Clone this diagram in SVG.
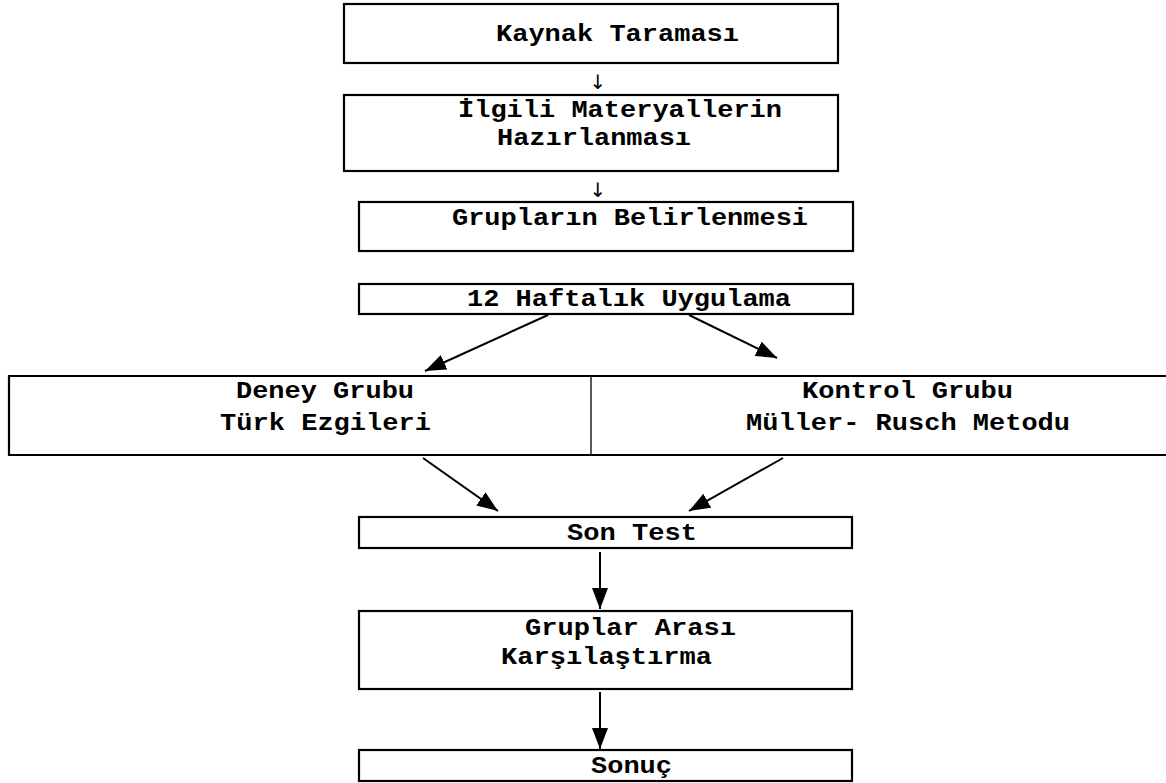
<svg xmlns="http://www.w3.org/2000/svg" width="1166" height="783" viewBox="0 0 1166 783">
<style>
.box{fill:#fff;stroke:#000;stroke-width:2.2}
.t{font-family:"Courier New","Liberation Mono",monospace;font-weight:bold;font-size:23px;fill:#000}
.sm{font-family:"DejaVu Sans","Liberation Sans",sans-serif;font-size:20px;fill:#000}
.c{stroke:#000;stroke-width:2;fill:none;marker-end:url(#ah)}
</style>
<defs>
<marker id="ah" markerUnits="userSpaceOnUse" markerWidth="22" markerHeight="16" refX="21" refY="8" orient="auto">
<path d="M0,0 L21,8 L0,16 z" fill="#000"/>
</marker>
</defs>
<rect width="1166" height="783" fill="#fff"/>
<g id="n1"><rect class="box" x="344" y="4" width="494" height="59"/>
<text class="t" x="496" y="41" textLength="243" lengthAdjust="spacingAndGlyphs">Kaynak Taraması</text></g>
<g id="n2"><rect class="box" x="344" y="95" width="494" height="76"/>
<text class="t" x="458" y="117" textLength="324" lengthAdjust="spacingAndGlyphs">İlgili Materyallerin</text>
<text class="t" x="497" y="145" textLength="194" lengthAdjust="spacingAndGlyphs">Hazırlanması</text></g>
<g id="n3"><rect class="box" x="359" y="202" width="494" height="49"/>
<text class="t" x="452" y="225" textLength="356" lengthAdjust="spacingAndGlyphs">Grupların Belirlenmesi</text></g>
<g id="n4"><rect class="box" x="359" y="284" width="494" height="30"/>
<text class="t" x="467" y="306" textLength="324" lengthAdjust="spacingAndGlyphs">12 Haftalık Uygulama</text></g>
<g id="n5"><path class="box" d="M1170,376 H9 V455 H1170" />
<text class="t" x="236" y="398" textLength="178" lengthAdjust="spacingAndGlyphs">Deney Grubu</text>
<text class="t" x="220" y="430" textLength="211" lengthAdjust="spacingAndGlyphs">Türk Ezgileri</text></g>
<g id="n6"><line x1="591" y1="376" x2="591" y2="455" stroke="#000" stroke-width="1.3"/>
<text class="t" x="802" y="398" textLength="211" lengthAdjust="spacingAndGlyphs">Kontrol Grubu</text>
<text class="t" x="746" y="430" textLength="324" lengthAdjust="spacingAndGlyphs">Müller- Rusch Metodu</text></g>
<g id="n7"><rect class="box" x="359" y="517" width="493" height="31"/>
<text class="t" x="567" y="540" textLength="130" lengthAdjust="spacingAndGlyphs">Son Test</text></g>
<g id="n8"><rect class="box" x="359" y="611" width="493" height="78"/>
<text class="t" x="525" y="635" textLength="211" lengthAdjust="spacingAndGlyphs">Gruplar Arası</text>
<text class="t" x="501" y="664" textLength="211" lengthAdjust="spacingAndGlyphs">Karşılaştırma</text></g>
<g id="n9"><rect class="box" x="359" y="750" width="493" height="31"/>
<text class="t" x="591" y="773" textLength="81" lengthAdjust="spacingAndGlyphs">Sonuç</text></g>
<g id="connectors">
<text class="sm" x="598" y="89" text-anchor="middle">↓</text>
<text class="sm" x="598" y="197" text-anchor="middle">↓</text>
<line class="c" x1="548" y1="315" x2="425" y2="371"/>
<line class="c" x1="689" y1="315" x2="777" y2="358"/>
<line class="c" x1="423" y1="458" x2="498" y2="511"/>
<line class="c" x1="783" y1="458" x2="689" y2="511"/>
<line class="c" x1="600" y1="552" x2="600" y2="609"/>
<line class="c" x1="600" y1="692" x2="600" y2="749"/>
</g>
</svg>
